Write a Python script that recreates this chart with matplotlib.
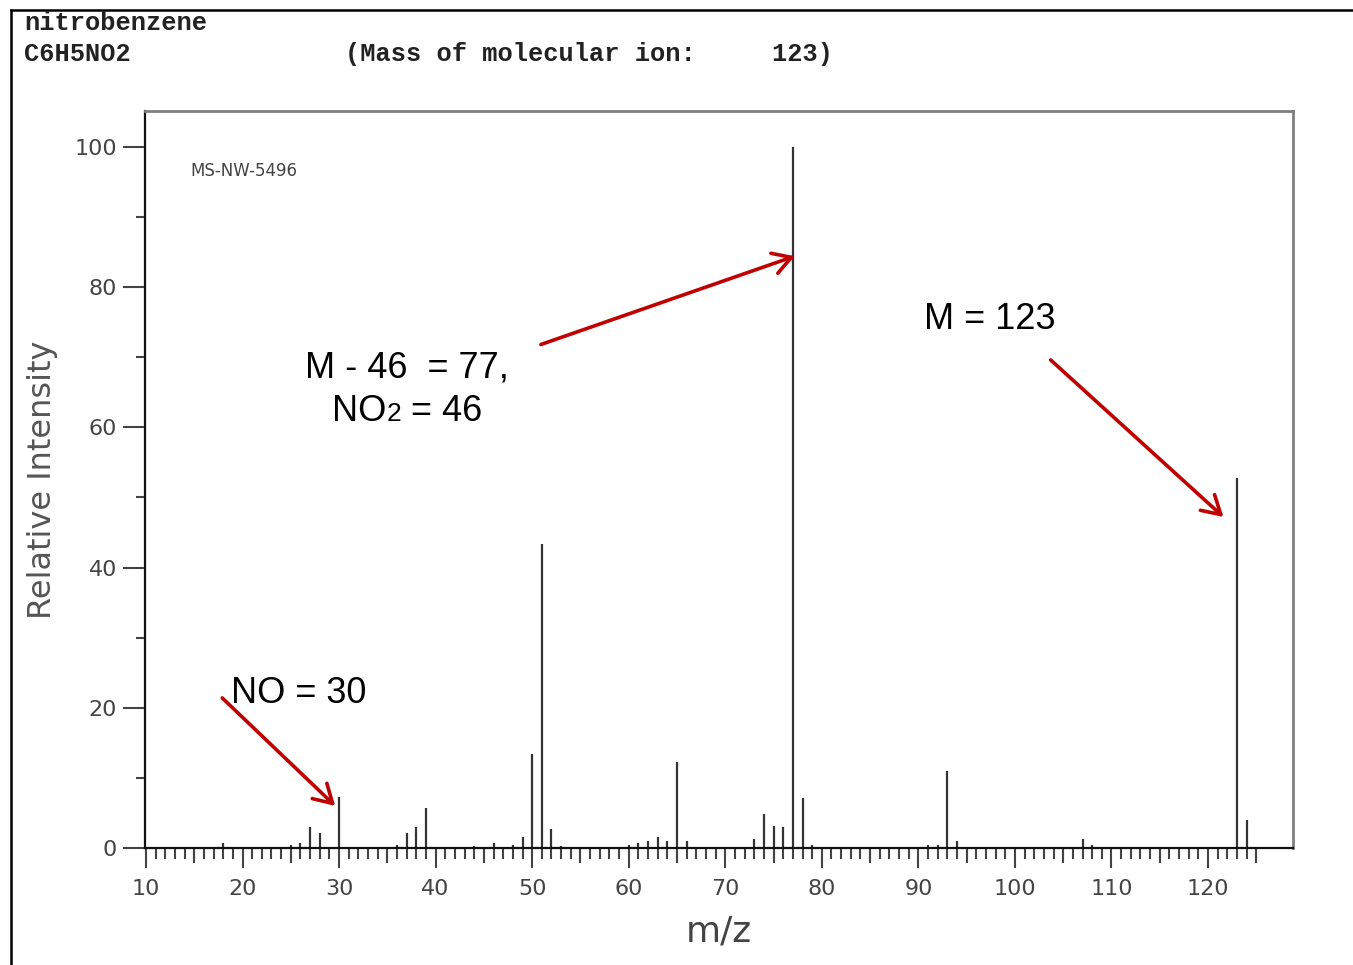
import matplotlib
matplotlib.use("Agg")
import matplotlib.pyplot as plt
from matplotlib.lines import Line2D
from matplotlib.offsetbox import TextArea, HPacker, AnnotationBbox

# ---- data ----
mz = [18, 25, 26, 27, 28, 30, 36, 37, 38, 39, 44, 46, 48, 49, 50, 51, 52, 53,
      60, 61, 62, 63, 64, 65, 66, 73, 74, 75, 76, 77, 78, 79, 91, 92, 93, 94,
      107, 108, 123, 124]
intensity = [0.7, 0.4, 0.7, 3.0, 2.1, 7.3, 0.4, 2.1, 3.0, 5.7, 0.3, 0.7, 0.4,
             1.6, 13.4, 43.4, 2.7, 0.3, 0.4, 0.7, 1.0, 1.6, 1.0, 12.2, 1.0,
             1.3, 4.8, 3.2, 3.0, 100.0, 7.1, 0.4, 0.4, 0.4, 11.0, 1.0, 1.3,
             0.4, 52.8, 4.0]
x_major = list(range(10, 121, 10))
x_mid = list(range(15, 126, 10))
x_minor = list(range(10, 126, 1))
y_major = [0, 20, 40, 60, 80, 100]
y_minor = [10, 30, 50, 70, 90]

W, H = 1353, 965
fig = plt.figure(figsize=(W / 100, H / 100), dpi=100)
fig.patch.set_facecolor("white")

# outer frame lines
fig.add_artist(Line2D([11 / W, 1.0], [1 - 10 / H, 1 - 10 / H], color="black", lw=1.8))
fig.add_artist(Line2D([11 / W, 11 / W], [0, 1 - 10 / H], color="black", lw=1.8))

# header text
mono = dict(family="Liberation Mono", fontsize=18.3, weight="bold", color="#222222", va="center")
fig.text(24 / W, 1 - 23 / H, "nitrobenzene", **mono)
fig.text(24 / W, 1 - 54 / H, "C6H5NO2", **mono)
fig.text(345 / W, 1 - 54 / H, "(Mass of molecular ion:     123)", **mono)

ax = fig.add_axes([145 / W, (H - 848) / H, (1293 - 145) / W, (848 - 111) / H])
ax.vlines(mz, 0, intensity, color="#333333", lw=1.6)
ax.set_xlim(9.9, 128.8)
ax.set_ylim(0, 105.1)

ax.set_xticks(x_major)
ax.set_xticks(x_minor, minor=True)
ax.set_yticks(y_major)
ax.set_yticks(y_minor, minor=True)
tick_col = "#444444"
ax.tick_params(axis="x", which="major", length=14.5, width=1.5, color=tick_col,
               labelsize=16, labelcolor="#444444", pad=8)
ax.tick_params(axis="x", which="minor", length=8, width=1.5, color=tick_col)
ax.tick_params(axis="y", which="major", length=16, width=1.5, color=tick_col,
               labelsize=16, labelcolor="#444444", pad=4)
ax.tick_params(axis="y", which="minor", length=6.5, width=1.5, color=tick_col)

sec = ax.secondary_xaxis("bottom")
sec.set_xticks(x_mid, labels=[""] * len(x_mid))
sec.tick_params(length=10.5, width=1.5, color=tick_col)
sec.spines["bottom"].set_visible(False)

for s in ["left", "bottom"]:
    ax.spines[s].set_color("#111111")
    ax.spines[s].set_linewidth(1.6)
for s in ["top", "right"]:
    ax.spines[s].set_color("#808080")
    ax.spines[s].set_linewidth(2.0)

ax.set_ylabel("Relative Intensity", fontsize=23, color="#555555")
ax.yaxis.set_label_coords(-0.076, 0.5)
ax.set_xlabel("m/z", fontsize=26, color="#444444")
ax.xaxis.set_label_coords(0.5, -0.09)

ax.text(14.6, 96.6, "MS-NW-5496", fontsize=12, color="#444444", va="center", ha="left")

# annotations
red = "#C00000"
sans = dict(family="Liberation Sans", fontsize=26, color="black")
arrow = dict(arrowstyle="->,head_length=0.65,head_width=0.38", color=red, lw=2.6,
             mutation_scale=20, shrinkA=0, shrinkB=0)
ax.annotate("", xy=(77.2, 84.4), xytext=(50.9, 71.8), arrowprops=arrow)
ax.annotate("", xy=(121.6, 47.2), xytext=(103.7, 69.6), arrowprops=arrow)
ax.annotate("", xy=(29.6, 6.0), xytext=(17.9, 21.4), arrowprops=arrow)

ax.text(90.6, 75.3, "M = 123", va="center", ha="left", **sans)
ax.text(26.5, 68.5, "M - 46  = 77,", va="center", ha="left", **sans)
ax.text(18.8, 22.0, "NO = 30", va="center", ha="left", **sans)

ta1 = TextArea("NO", textprops=sans)
ta2 = TextArea("2", textprops=dict(family="Liberation Sans", fontsize=19, color="black"))
ta3 = TextArea(" = 46", textprops=sans)
box = HPacker(children=[ta1, ta2, ta3], align="baseline", pad=0, sep=0)
ab = AnnotationBbox(box, (29.3, 62.3), xycoords="data", box_alignment=(0, 0.5),
                    frameon=False, pad=0)
ax.add_artist(ab)

fig.savefig("out.png", dpi=100)
